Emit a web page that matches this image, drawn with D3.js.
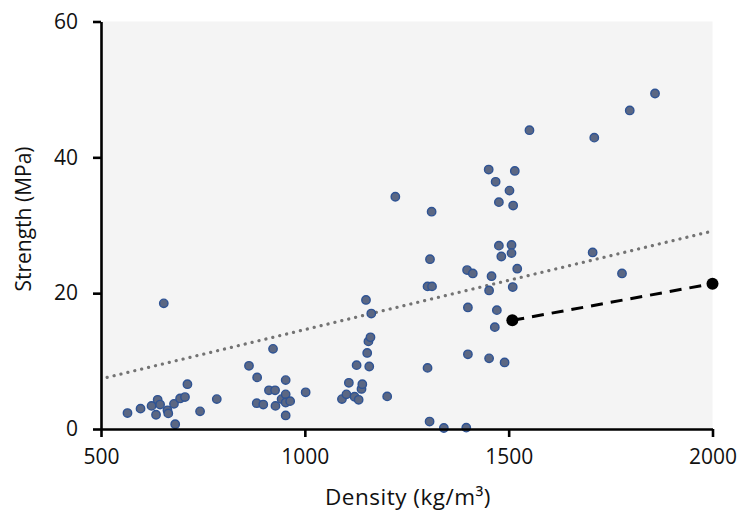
<!DOCTYPE html>
<html><head><meta charset="utf-8">
<script src="https://cdn.jsdelivr.net/npm/d3@7"></script>
<style>
html,body{margin:0;padding:0;background:#fff;}
svg{display:block;}
text{font-family:"Open Sans",Lato,sans-serif;fill:#111;}
</style></head>
<body>
<svg id="c" width="744" height="514"></svg>
<script>
const density = [565,597,624,635,639,645,654,663,665,679,682,694,706,712,743,784,863,882,883,898,912,922,927,928,943,953,953,953,953,964,1002,1091,1102,1108,1122,1127,1132,1139,1141,1150,1153,1156,1158,1161,1163,1202,1222,1301,1301,1306,1307,1311,1312,1341,1396,1398,1400,1400,1412,1451,1452,1452,1458,1466,1468,1471,1476,1476,1482,1490,1502,1507,1507,1510,1511,1515,1521,1551,1706,1710,1778,1797,1859];
const strength = [2.35,3.0,3.4,2.1,4.3,3.6,18.5,2.75,2.3,3.7,0.7,4.5,4.7,6.6,2.6,4.4,9.3,3.8,7.6,3.6,5.7,11.8,5.7,3.4,4.4,7.2,5.1,3.9,2.0,4.1,5.4,4.4,5.1,6.8,4.75,9.4,4.3,5.9,6.6,19.0,11.2,12.9,9.2,13.5,17.0,4.8,34.2,21.0,9.0,1.1,25.0,32.0,21.0,0.15,0.2,23.4,17.9,11.0,22.9,38.2,20.4,10.4,22.5,15.0,36.4,17.5,33.4,27.0,25.4,9.8,35.1,27.1,25.9,20.9,32.9,38.0,23.6,44.0,26.0,42.9,22.9,46.9,49.4];
const trendX = [515, 1990];
const trendY = [7.6, 29.0];
const refX = [1509, 2000];
const refY = [16.0, 21.4];
const xTicks = [500, 1000, 1500, 2000];
const yTicks = [0, 20, 40, 60];
const xTitle = "Density (kg/m\u00B3)";
const yTitle = "Strength (MPa)";

const svg = d3.select("#c");
const x = d3.scaleLinear().domain([500, 2000]).range([101, 712.5]);
const y = d3.scaleLinear().domain([0, 60]).range([429, 21.5]);

// plot background
svg.append("rect").attr("x", x(500)).attr("y", y(60))
  .attr("width", x(2000) - x(500)).attr("height", y(0) - y(60))
  .attr("fill", "#f4f4f4");

// trend line (dotted)
svg.append("line")
  .attr("x1", x(trendX[0])).attr("y1", y(trendY[0]))
  .attr("x2", x(trendX[1])).attr("y2", y(trendY[1]))
  .attr("stroke", "#737373").attr("stroke-width", 3.2)
  .attr("stroke-linecap", "round").attr("stroke-dasharray", "0.1 7");

// points
svg.append("g").selectAll("circle").data(density.map((d, i) => [d, strength[i]]))
  .join("circle")
  .attr("cx", d => x(d[0])).attr("cy", d => y(d[1])).attr("r", 4.2)
  .attr("fill", "#5b6783").attr("stroke", "#2e5394").attr("stroke-width", 1.4);

// reference dashed line
svg.append("line")
  .attr("x1", x(refX[0])).attr("y1", y(refY[0]))
  .attr("x2", x(refX[1])).attr("y2", y(refY[1]))
  .attr("stroke", "#000").attr("stroke-width", 3)
  .attr("stroke-dasharray", "12 8");
svg.append("g").selectAll("circle").data(refX.map((d, i) => [d, refY[i]]))
  .join("circle")
  .attr("cx", d => x(d[0])).attr("cy", d => y(d[1])).attr("r", 6)
  .attr("fill", "#000");

// axes
const xAxis = svg.append("g").attr("transform", `translate(0,${y(0)})`)
  .call(d3.axisBottom(x).tickValues(xTicks).tickFormat(d3.format("d")).tickSize(8).tickPadding(12).tickSizeOuter(0));
const yAxis = svg.append("g").attr("transform", `translate(${x(500)},0)`)
  .call(d3.axisLeft(y).tickValues(yTicks).tickSize(8).tickPadding(15).tickSizeOuter(0));
[xAxis, yAxis].forEach(a => {
  a.select(".domain").attr("stroke", "#000").attr("stroke-width", 2.6);
  a.selectAll(".tick line").attr("stroke", "#000").attr("stroke-width", 2.6);
  a.selectAll(".tick text").attr("font-size", 21).attr("fill", "#111")
    .attr("font-family", "'Open Sans', Lato, sans-serif");
});

svg.append("text").attr("x", 408).attr("y", 505).attr("text-anchor", "middle")
  .attr("font-size", 22.5).attr("letter-spacing", 0.5).text(xTitle);
svg.append("text").attr("transform", "translate(31,219) rotate(-90)")
  .attr("text-anchor", "middle").attr("font-size", 21).text(yTitle);
</script>
</body></html>
